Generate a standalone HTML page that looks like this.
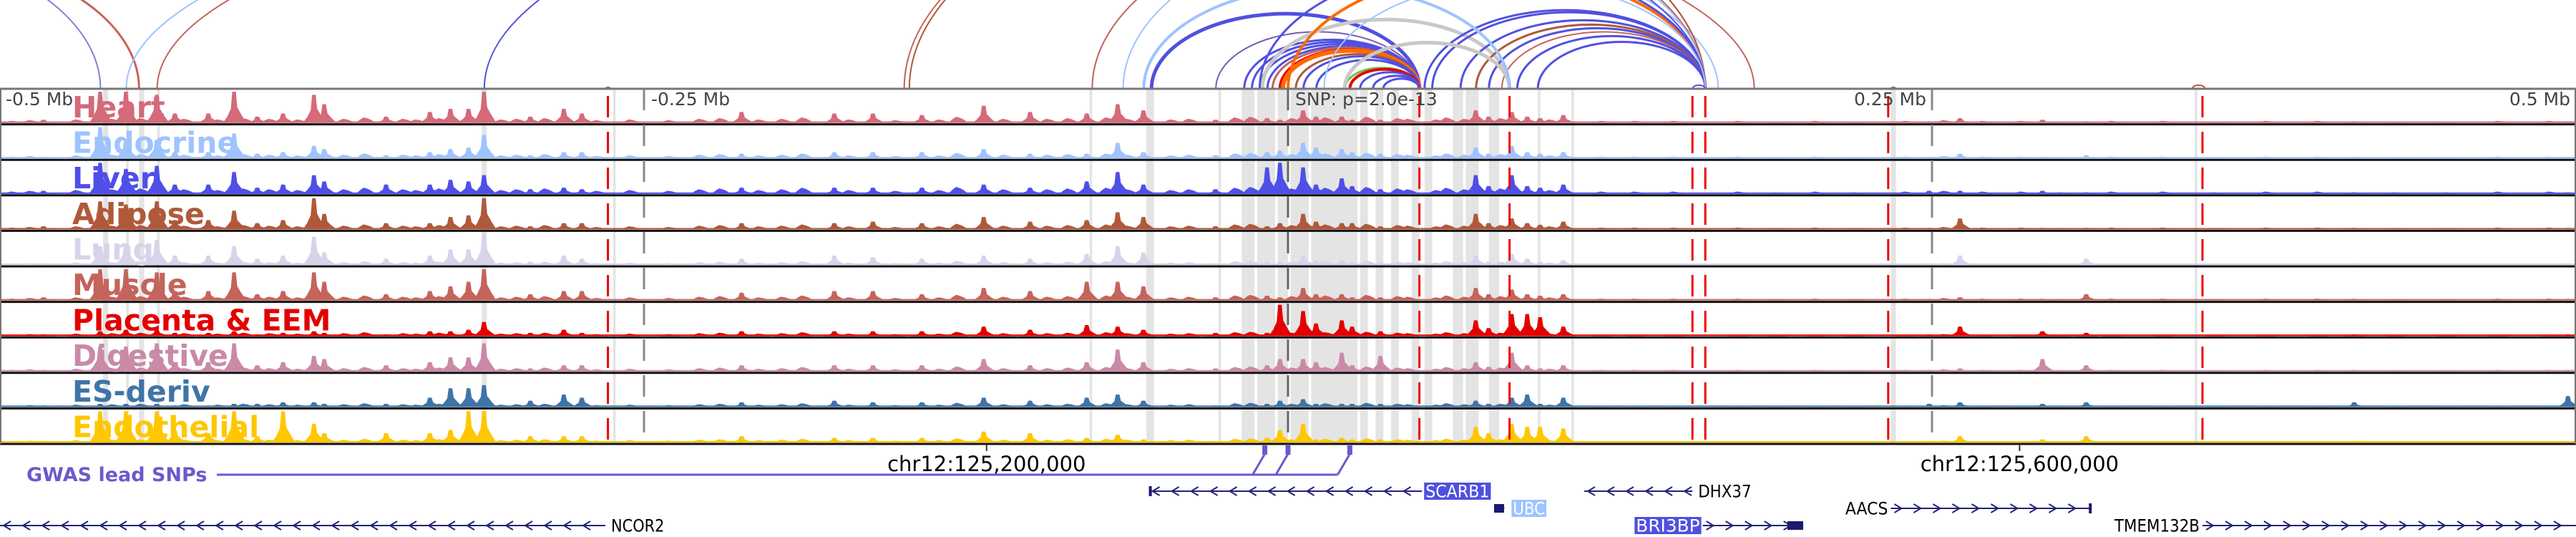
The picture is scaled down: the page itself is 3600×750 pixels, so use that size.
<!DOCTYPE html>
<html><head><meta charset="utf-8"><style>
html,body{margin:0;padding:0;background:#fff;}
svg{display:block;font-family:"DejaVu Sans","Liberation Sans",sans-serif;}
</style></head><body>
<svg id="chart" width="3600" height="750" viewBox="0 0 3600 750" xmlns="http://www.w3.org/2000/svg">
<g id="bands"></g>
<g id="arcs"></g>
<g id="tracks"></g>
<g id="vlines"></g>
<g id="labels"></g>
<g id="genes"></g>
</svg>
<script>
// ---- data ----
const trackNames = ["Heart","Endocrine","Liver","Adipose","Lung","Muscle","Placenta & EEM","Digestive","ES-deriv","Endothelial"];
const trackColors = ["#d46a7a","#9ec3ff","#4f4fe8","#b0593a","#d9d3ea","#c4645c","#e30000","#c98aa8","#3f74a8","#ffc700"];
// peak positions, kb relative to lead SNP
const peakKb = [-483,-461,-451,-439,-432,-419,-409,-400,-390,-378,-374,-350,-333,-325,-318,-312,-294,-281,-274,-212,-176,-161,-142,-118,-100,-78,-66,-56,-28,-8,-3,6,11,21,25,36,73,78,87,93,98,107,249,261,293,310,414,497];
const hHeart = [0.1,1,1,0.9,0.3,0.3,1,0.2,0.3,0.9,0.6,0.2,0.35,0.45,0.45,1,0.2,0.45,0.3,0.35,0.3,0.3,0.25,0.55,0.35,0.3,0.6,0.4,0.1,0.15,0.1,0.4,0.2,0.2,0.1,0.1,0.4,0.2,0.35,0.2,0.15,0.25,0.05,0.15,0.1,0.05,0.05,0.05];
const hEndocrine = [0.05,1,0.6,0.6,0.2,0.2,0.8,0.15,0.2,0.4,0.3,0.1,0.2,0.3,0.35,0.75,0.1,0.2,0.2,0.15,0.2,0.2,0.2,0.3,0.15,0.15,0.5,0.2,0.1,0.2,0.25,0.5,0.35,0.3,0.2,0.15,0.35,0.15,0.4,0.2,0.15,0.2,0.05,0.15,0.05,0.1,0.05,0.05];
const hLiver = [0.1,1,0.8,0.9,0.3,0.3,0.7,0.2,0.3,0.6,0.4,0.3,0.3,0.45,0.4,0.6,0.15,0.2,0.15,0.2,0.2,0.2,0.2,0.3,0.2,0.4,0.7,0.3,0.15,0.85,1,0.85,0.3,0.5,0.25,0.15,0.6,0.25,0.6,0.25,0.2,0.3,0.1,0.1,0.1,0.05,0.05,0.05];
const hAdipose = [0.1,0.9,0.8,0.9,0.3,0.3,0.6,0.2,0.3,1,0.5,0.2,0.2,0.4,0.45,1,0.1,0.2,0.2,0.2,0.2,0.25,0.2,0.4,0.25,0.3,0.55,0.4,0.1,0.1,0.2,0.5,0.25,0.2,0.2,0.1,0.5,0.2,0.35,0.2,0.15,0.25,0.05,0.35,0.05,0.05,0.05,0.05];
const hLung = [0.05,0.6,0.7,0.8,0.3,0.3,0.6,0.2,0.3,0.9,0.4,0.2,0.3,0.5,0.5,1,0.1,0.3,0.2,0.2,0.3,0.25,0.2,0.3,0.2,0.35,0.6,0.4,0.05,0.1,0.1,0.3,0.15,0.15,0.1,0.1,0.3,0.1,0.35,0.2,0.1,0.15,0.05,0.3,0.05,0.2,0.05,0.05];
const hMuscle = [0.1,1,1,0.9,0.3,0.3,0.9,0.2,0.3,0.9,0.6,0.2,0.3,0.45,0.6,1,0.2,0.3,0.3,0.25,0.3,0.3,0.2,0.4,0.3,0.6,0.6,0.45,0.1,0.15,0.1,0.4,0.2,0.2,0.1,0.1,0.4,0.2,0.35,0.2,0.15,0.2,0.05,0.1,0.05,0.2,0.05,0.05];
const hPlacenta = [0.05,0.15,0.2,0.2,0.1,0.1,0.15,0.05,0.1,0.15,0.1,0.05,0.15,0.15,0.2,0.45,0.1,0.2,0.1,0.15,0.15,0.15,0.15,0.3,0.2,0.35,0.3,0.2,0.1,0.1,1,0.8,0.4,0.5,0.3,0.15,0.5,0.25,0.7,0.7,0.6,0.3,0.05,0.3,0.15,0.1,0.05,0.05];
const hDigestive = [0.05,0.8,0.8,0.9,0.3,0.3,0.9,0.2,0.3,0.5,0.4,0.2,0.3,0.45,0.45,0.9,0.1,0.2,0.2,0.2,0.2,0.2,0.2,0.4,0.2,0.3,0.7,0.3,0.1,0.2,0.4,0.4,0.3,0.6,0.2,0.5,0.3,0.15,0.6,0.2,0.1,0.2,0.05,0.1,0.4,0.2,0.05,0.05];
const hESderiv = [0.05,0.1,0.1,0.1,0.05,0.05,0.1,0.1,0.15,0.15,0.1,0.1,0.3,0.6,0.6,0.7,0.2,0.4,0.3,0.15,0.2,0.15,0.15,0.3,0.2,0.3,0.4,0.2,0.05,0.1,0.2,0.25,0.1,0.1,0.1,0.1,0.2,0.1,0.3,0.4,0.1,0.3,0.1,0.15,0.1,0.15,0.15,0.35];
const hEndothelial = [0.05,1,1,1,0.4,0.3,1,0.2,1,0.6,0.3,0.3,0.3,0.4,1,1,0.2,0.2,0.2,0.2,0.15,0.15,0.15,0.35,0.3,0.15,0.25,0.1,0.05,0.15,0.4,0.6,0.1,0.15,0.1,0.1,0.5,0.3,0.6,0.5,0.5,0.45,0.05,0.2,0.1,0.2,0.05,0.05];
const trackHeights = [hHeart,hEndocrine,hLiver,hAdipose,hLung,hMuscle,hPlacenta,hDigestive,hESderiv,hEndothelial];
// low-level background signal (shared shape) and per-track level
const bgKb = [-495,-488,-470,-456,-445,-428,-415,-405,-395,-384,-366,-358,-343,-338,-329,-305,-299,-288,-268,-255,-240,-228,-220,-205,-196,-188,-170,-152,-135,-128,-110,-93,-85,-70,-62,-45,-38,-20,-14,2,15,31,43,47,58,62,69,83,102,122,135,150,175,190,205,220,240,255,270,285,300,320,340,360,380,400,430,450,470,490];
const bgShape = [0.3,0.4,0.5,0.6,0.7,0.6,0.5,0.7,0.6,0.5,0.6,0.8,0.6,0.5,0.7,0.5,0.6,0.7,0.4,0.5,0.4,0.6,0.7,0.5,0.6,0.8,0.5,0.4,0.5,0.9,0.6,0.6,0.7,0.8,0.6,0.5,0.6,0.8,0.9,0.7,0.8,0.9,0.7,0.6,0.5,0.8,0.6,0.7,0.5,0.3,0.3,0.3,0.3,0.2,0.3,0.2,0.3,0.4,0.3,0.3,0.2,0.3,0.3,0.2,0.3,0.3,0.2,0.2,0.3,0.3];
const bgLevel = [0.22,0.2,0.25,0.2,0.15,0.2,0.15,0.18,0.15,0.15];
// highlighted regions [startKb, endKb]
const bandStartKb = [-460,-451,-446,-439,-313,-262,-77,-55,-27,-18,-12,-4,1,6,9,19,28,34,40,48,53,64,66,69,78,97,110,234,352];
const bandEndKb   = [-458,-450,-444,-438,-311,-261,-76,-52,-26,-13,-5,0,6,8,19,27,31,37,43,51,56,66,68,74,82,98,111,236,353];
// interaction arcs (kb) and colours
const arcStartKb = [-667,-639,-451,-439,-312,-149,-147,-76,-64,-53,-28,-17,-14,-11,-10,-8,-6,-3,-2,0,3,6,11,22,24,28,33,37,53,56,67,73,78,83,89,97,22,-56,-11,14,157,234,351,-265];
const arcEndKb   = [-461,-446,167,181,162,162,162,162,162,51,51,51,51,51,86,51,51,51,51,162,51,51,51,51,51,51,51,51,162,162,162,162,162,162,162,162,86,86,162,162,162,236,356,-263];
const arcColors  = ["#8080d8","#c4645c","#9ec3ff","#c4645c","#5050e0","#c4645c","#b0593a","#c4645c","#9ec3ff","#5050e0","#7a5ab0","#5050e0","#5050e0","#5050e0","#c8c8c8","#5050e0","#c4645c","#e30000","#ff6a00","#ff6a00","#b0593a","#5050e0","#5050e0","#6cc04a","#e30000","#5050e0","#5050e0","#5050e0","#5050e0","#5050e0","#5050e0","#b0593a","#5050e0","#c4645c","#5050e0","#5050e0","#c8c8c8","#9ec3ff","#5050e0","#9ec3ff","#5050e0","#b0593a","#b0593a","#b0593a"];
const arcWidths  = [2,3,2,2,2,2,2,2,2,5,2,3,3,3,5,3,3,5,6,4,3,3,3,3,4,3,3,3,3,3,3,3,3,2,3,3,5,4,3,2,2,2,2,2];
const redLineKb = [-264,51,86,157,162,233,355];
const greyLineKb = [-250,250];
const axisTickKb = [-500,-250,250,500];
const axisTickText = ["-0.5 Mb","-0.25 Mb","0.25 Mb","0.5 Mb"];
const snpLabel = "SNP: p=2.0e-13";
const gwasKb = [-9,0,24];
const coordKb = [-117,284];
const coordText = ["chr12:125,200,000","chr12:125,600,000"];
// genes
const geneNames = ["NCOR2","SCARB1","UBC","DHX37","BRI3BP","AACS","TMEM132B"];
const geneStartKb = [-500,-54,80,115,161,234,355];
const geneEndKb = [-265,52,84,157,200,312,500];
const geneRow = [2,0,1,0,2,1,2];
const geneStrand = [-1,-1,-1,-1,1,1,1];
const geneLabelBg = ["","#5050e0","#9ec3ff","","#5050e0","",""];
const geneLabelSide = ["right","right","right","right","left","left","left"];

// ---- scales ----
const W=3600, TOP=124, TH=49.6, NT=10;
const x = kb => 1800 + kb*3.6;
const NS="http://www.w3.org/2000/svg";
function mk(tag, parent){const e=document.createElementNS(NS,tag);parent.appendChild(e);return e;}
const G = id => document.getElementById(id);

// bands
for(let i=0;i<bandStartKb.length;i++){
  const r=mk('rect',G('bands'));
  
  
  r.setAttribute('x',x(bandStartKb[i]));r.setAttribute('y',TOP);
  r.setAttribute('width',Math.max(3,x(bandEndKb[i])-x(bandStartKb[i])));r.setAttribute('height',TH*NT);
  r.setAttribute('fill','#e4e4e4');
}
// arcs
const arcG=G('arcs');
const clip=mk('clipPath',mk('defs',G('chart')));clip.setAttribute('id','arcclip');
const cr=mk('rect',clip);cr.setAttribute('x',0);cr.setAttribute('y',0);cr.setAttribute('width',W);cr.setAttribute('height',TOP);
arcG.setAttribute('clip-path','url(#arcclip)');
for(let i=0;i<arcStartKb.length;i++){
  const a=x(arcStartKb[i]), b=x(arcEndKb[i]);
  const rx=(b-a)/2, ry=Math.min(0.28*(b-a),300);
  const p=mk('path',arcG);
  
  
  p.setAttribute('d',`M${a} ${TOP} A${rx} ${ry} 0 0 1 ${b} ${TOP}`);
  p.setAttribute('fill','none');p.setAttribute('stroke',arcColors[i]);p.setAttribute('stroke-width',arcWidths[i]);
}
// tracks
const tg=G('tracks');
for(let t=0;t<NT;t++){
  const y0=TOP+t*TH, base=y0+TH-2;
  const g=mk('g',tg);
  
  
  const bl=mk('rect',g);bl.setAttribute('x',0);bl.setAttribute('y',base-2);bl.setAttribute('width',W);bl.setAttribute('height',2);bl.setAttribute('fill',trackColors[t]);
  for(let i=0;i<bgKb.length;i++){
    const h=bgShape[i]*bgLevel[t]*(TH-6); const cx=x(bgKb[i]);
    const p=mk('polygon',g);
    
    
    p.setAttribute('points',`${cx-14},${base} ${cx-8},${base-h*0.6} ${cx-3},${base-h} ${cx+3},${base-h*0.8} ${cx+8},${base-h*0.5} ${cx+14},${base}`);
    p.setAttribute('fill',trackColors[t]);
  }
  const hs=trackHeights[t];
  for(let i=0;i<peakKb.length;i++){
    const h=(hs[i]||0)*(TH-6); if(h<=0)continue;
    const cx=x(peakKb[i]);
    const p=mk('polygon',g);
    
    
    p.setAttribute('points',`${cx-16},${base} ${cx-10},${base-h*0.2} ${cx-5},${base-h*0.45} ${cx-3},${base-h} ${cx+2},${base-h} ${cx+4},${base-h*0.5} ${cx+10},${base-h*0.25} ${cx+17},${base}`);
    p.setAttribute('fill',trackColors[t]);
  }
  const ln=mk('line',g);ln.setAttribute('x1',0);ln.setAttribute('x2',W);ln.setAttribute('y1',y0+TH);ln.setAttribute('y2',y0+TH);
  ln.setAttribute('stroke','#111');ln.setAttribute('stroke-width',3);
}
const topl=mk('line',tg);topl.setAttribute('x1',0);topl.setAttribute('x2',W);topl.setAttribute('y1',TOP);topl.setAttribute('y2',TOP);topl.setAttribute('stroke','#777');topl.setAttribute('stroke-width',3);
const lft=mk('line',tg);lft.setAttribute('x1',1);lft.setAttribute('x2',1);lft.setAttribute('y1',TOP);lft.setAttribute('y2',TOP+TH*NT);lft.setAttribute('stroke','#777');lft.setAttribute('stroke-width',2);
const rgt=mk('line',tg);rgt.setAttribute('x1',W-1);rgt.setAttribute('x2',W-1);rgt.setAttribute('y1',TOP);rgt.setAttribute('y2',TOP+TH*NT);rgt.setAttribute('stroke','#777');rgt.setAttribute('stroke-width',2);
// vertical marker lines
const vg=G('vlines');
greyLineKb.concat([0]).forEach((k,i)=>{
  const l=mk('line',vg);
  
  
  l.setAttribute('x1',x(k));l.setAttribute('x2',x(k));l.setAttribute('y1',TOP);l.setAttribute('y2',TOP+TH*NT);
  l.setAttribute('stroke',k===0?'#666':'#888');l.setAttribute('stroke-width',3);l.setAttribute('stroke-dasharray','30 20');
});
redLineKb.forEach(k=>{
  const l=mk('line',vg);
  
  
  l.setAttribute('x1',x(k));l.setAttribute('x2',x(k));l.setAttribute('y1',TOP);l.setAttribute('y2',TOP+TH*NT);
  l.setAttribute('stroke','#e00');l.setAttribute('stroke-width',3);l.setAttribute('stroke-dasharray','30 20');l.setAttribute('stroke-dashoffset','-10');
});
// labels
const lg=G('labels');
axisTickKb.forEach((k,i)=>{
  const t=mk('text',lg);
  
  
  let xx=x(k)+10, anchor='start';
  if(k===-500){xx=8;} else if(k===500){xx=3592;anchor='end';} else if(k>0){xx=x(k)-8;anchor='end';}
  t.setAttribute('x',xx);t.setAttribute('y',147);t.setAttribute('text-anchor',anchor);
  t.setAttribute('font-size',25);t.setAttribute('fill','#444');t.textContent=axisTickText[i];
});
const st=mk('text',lg);


st.setAttribute('x',x(0)+10);st.setAttribute('y',147);st.setAttribute('font-size',25);st.setAttribute('fill','#444');st.textContent=snpLabel;
trackNames.forEach((n,i)=>{
  const t=mk('text',lg);
  
  
  t.setAttribute('x',101);t.setAttribute('y',TOP+i*TH+40);t.setAttribute('font-size',41);t.setAttribute('font-weight','bold');
  t.setAttribute('fill',trackColors[i]);t.textContent=n;
});
// coordinates
coordKb.forEach((k,i)=>{
  const tk=mk('line',lg);tk.setAttribute('x1',x(k));tk.setAttribute('x2',x(k));tk.setAttribute('y1',621);tk.setAttribute('y2',630);tk.setAttribute('stroke','#333');tk.setAttribute('stroke-width',2);
  const t=mk('text',lg);
  
  
  t.setAttribute('x',x(k));t.setAttribute('y',658);t.setAttribute('text-anchor','middle');t.setAttribute('font-size',29);t.setAttribute('fill','#000');
  t.textContent=coordText[i];
});
// GWAS
const gg=G('genes');
const gt=mk('text',gg);


gt.setAttribute('x',37);gt.setAttribute('y',672);gt.setAttribute('font-size',27);gt.setAttribute('font-weight','bold');gt.setAttribute('fill','#6a5acd');gt.textContent='GWAS lead SNPs';
const lastG=x(gwasKb[gwasKb.length-1])-17;
const gl=mk('line',gg);gl.setAttribute('x1',303);gl.setAttribute('x2',lastG);gl.setAttribute('y1',663);gl.setAttribute('y2',663);gl.setAttribute('stroke','#6a5acd');gl.setAttribute('stroke-width',3);
gwasKb.forEach(k=>{
  const xx=x(k);
  const d=mk('line',gg);d.setAttribute('x1',xx-17);d.setAttribute('y1',663);d.setAttribute('x2',xx);d.setAttribute('y2',634);d.setAttribute('stroke','#6a5acd');d.setAttribute('stroke-width',3);
  const r=mk('rect',gg);
  
  
  r.setAttribute('x',xx-3.5);r.setAttribute('y',622);r.setAttribute('width',7);r.setAttribute('height',13);r.setAttribute('fill','#6a5acd');
});
// genes
const rowY=[686,710,734];
geneNames.forEach((n,i)=>{
  const y=rowY[geneRow[i]], a=x(geneStartKb[i]), b=x(geneEndKb[i]);
  const g=mk('g',gg);
  
  
  const l=mk('line',g);l.setAttribute('x1',a);l.setAttribute('x2',b);l.setAttribute('y1',y);l.setAttribute('y2',y);l.setAttribute('stroke','#232378');l.setAttribute('stroke-width',2);
  for(let c=a+10;c<b-6;c+=27){
    const p=mk('polyline',g);const s=geneStrand[i];
    p.setAttribute('points',`${c-5*s},${y-6} ${c+5*s},${y} ${c-5*s},${y+6}`);
    p.setAttribute('fill','none');p.setAttribute('stroke','#232378');p.setAttribute('stroke-width',2);
  }
  if(n==='UBC'||n==='BRI3BP'){
    const bx=mk('rect',g);const bw=n==='UBC'?14:22;const bxx=n==='UBC'?a:b-bw;
    bx.setAttribute('x',bxx);bx.setAttribute('y',y-6);bx.setAttribute('width',bw);bx.setAttribute('height',12);bx.setAttribute('fill','#1a1a6e');
  }
  if(n==='AACS'||n==='SCARB1'){
    const bx=mk('rect',g);const bxx=n==='AACS'?b-4:a;
    bx.setAttribute('x',bxx);bx.setAttribute('y',y-7);bx.setAttribute('width',4);bx.setAttribute('height',14);bx.setAttribute('fill','#1a1a6e');
  }
  const t=mk('text',g);
  
  
  const fs=24;
  t.setAttribute('font-size',fs);t.setAttribute('y',y+8.5);
  const tw=n.length*fs*0.62;
  let tx = geneLabelSide[i]==='right' ? b+(geneLabelBg[i]?5:8) : a-4-tw;
  if(n==='UBC') tx=b+12;
  if(geneLabelBg[i]){
    const r=mk('rect',g);r.setAttribute('x',tx-2);r.setAttribute('y',y-12);r.setAttribute('width',tw+4);r.setAttribute('height',24);r.setAttribute('fill',geneLabelBg[i]);
    g.appendChild(t);t.setAttribute('fill','#fff');
  } else t.setAttribute('fill','#000');
  t.setAttribute('x',tx);t.setAttribute('textLength',tw);t.setAttribute('lengthAdjust','spacingAndGlyphs');
  t.textContent=n;
});
</script>
</body></html>
